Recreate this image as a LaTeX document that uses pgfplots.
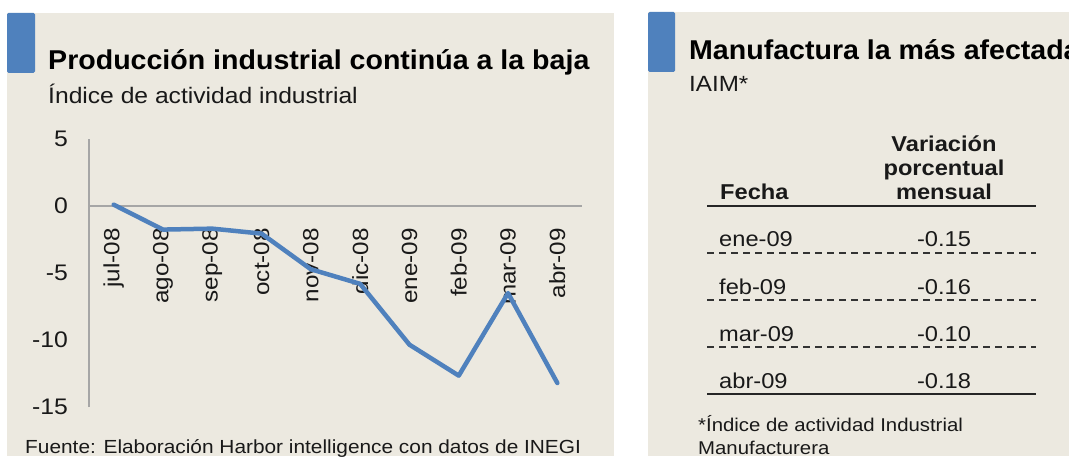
\documentclass[border=0pt]{standalone}
\usepackage{pgfplots}
\pgfplotsset{compat=1.18}
\usepackage{fontspec}
\setmainfont[FakeStretch=1.1]{Liberation Sans}
\newfontfamily\titlefont[FakeStretch=1.05]{Liberation Sans}
\definecolor{bg}{RGB}{236,233,224}
\definecolor{blu}{RGB}{79,129,189}
\definecolor{axg}{RGB}{166,166,166}
\definecolor{txt}{RGB}{25,25,25}
\begin{document}
\begin{tikzpicture}[x=1pt,y=1pt]
\clip (0,0) rectangle (1069,456);
\fill[white] (0,0) rectangle (1069,456);
\fill[bg] (7,0) rectangle (614,443);
\fill[bg] (648,0) rectangle (1069,444);
\fill[blu, rounded corners=1.5pt] (7,383) rectangle (35,443);
\fill[blu, rounded corners=1.5pt] (648,384) rectangle (675,444);
% left panel text
\node[anchor=base west, inner sep=0, text=black] at (48,386.5) {\fontsize{27.2}{31}\titlefont\bfseries Producción industrial continúa a la baja};
\node[anchor=base west, inner sep=0, text=txt] at (48,352) {\fontsize{22.4}{26}\selectfont Índice de actividad industrial};
\node[anchor=base west, inner sep=0, text=txt] at (25,3) {\fontsize{18.95}{23}\selectfont Fuente: Elaboración Harbor intelligence con datos de INEGI};
% chart
\begin{axis}[
  at={(89pt,49pt)}, anchor=south west,
  scale only axis, width=493pt, height=268pt,
  xmin=-0.5, xmax=9.5, ymin=-15, ymax=5,
  axis x line=middle, axis y line=left,
  axis line style={draw=axg, line width=1.4pt, -},
  xtick={0,1,2,3,4,5,6,7,8,9},
  xticklabels={jul-08,ago-08,sep-08,oct-08,nov-08,dic-08,ene-09,feb-09,mar-09,abr-09},
  ytick={-15,-10,-5,0,5},
  yticklabels={-15,-10,-5,0,5},
  major tick length=0pt,
  tick style={draw=none},
  xticklabel style={font=\fontsize{22}{24}\selectfont, text=txt, yshift=-22pt, rotate=90, anchor=east, inner sep=0pt},
  yticklabel style={font=\fontsize{22.5}{24}\selectfont, text=txt, anchor=east, inner sep=0pt, xshift=-21pt},
  clip=false,
]
\addplot[blu, line width=4.5pt, line join=round, line cap=round] coordinates {
  (0,0.1) (1,-1.76) (2,-1.69) (3,-2.06) (4,-4.72) (5,-5.81) (6,-10.35) (7,-12.66) (8,-6.5) (9,-13.21)
};
\end{axis}
% right panel
\node[anchor=base west, inner sep=0, text=black] at (689,396.7) {\fontsize{27.2}{31}\titlefont\bfseries Manufactura la más afectada};
\node[anchor=base west, inner sep=0, text=txt] at (689,364.3) {\fontsize{22}{26}\selectfont IAIM*};
\begin{scope}[every node/.style={inner sep=0, text=txt, font=\fontsize{21.5}{24}\selectfont}]
\node[anchor=base west] at (720,256) {\bfseries Fecha};
\node[anchor=base] at (944,304) {\bfseries Variación};
\node[anchor=base] at (944,280) {\bfseries porcentual};
\node[anchor=base] at (944,256) {\bfseries mensual};
\draw[line width=1.5pt, black!85] (707,250) -- (1036,250);
\node[anchor=base west] at (719,209) {ene-09};
\node[anchor=base] at (944,209) {-0.15};
\draw[line width=1.4pt, black!80, dash pattern=on 7pt off 5pt] (707,203) -- (1036,203);
\node[anchor=base west] at (719,162) {feb-09};
\node[anchor=base] at (944,162) {-0.16};
\draw[line width=1.4pt, black!80, dash pattern=on 7pt off 5pt] (707,156) -- (1036,156);
\node[anchor=base west] at (719,115) {mar-09};
\node[anchor=base] at (944,115) {-0.10};
\draw[line width=1.4pt, black!80, dash pattern=on 7pt off 5pt] (707,109) -- (1036,109);
\node[anchor=base west] at (719,68) {abr-09};
\node[anchor=base] at (944,68) {-0.18};
\draw[line width=1.5pt, black!85] (707,62) -- (1036,62);
\end{scope}
\node[anchor=base west, inner sep=0, text=txt] at (698,25) {\fontsize{18.5}{22}\selectfont *Índice de actividad Industrial};
\node[anchor=base west, inner sep=0, text=txt] at (698,2) {\fontsize{18.5}{22}\selectfont Manufacturera};
\end{tikzpicture}
\end{document}
